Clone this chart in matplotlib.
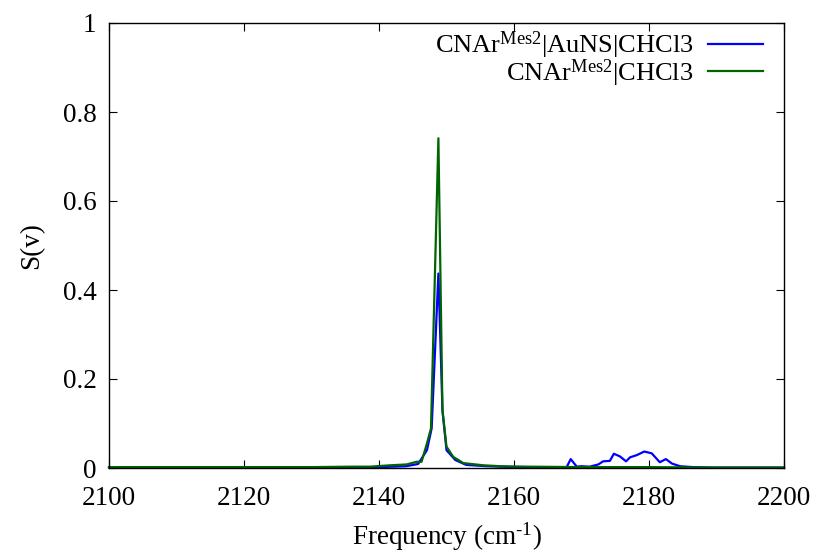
import numpy as np
import matplotlib
matplotlib.use("Agg")
import matplotlib.pyplot as plt

plt.rcParams['font.family'] = 'Liberation Serif'
plt.rcParams['mathtext.fontset'] = 'custom'
plt.rcParams['mathtext.rm'] = 'Liberation Serif'
plt.rcParams['mathtext.it'] = 'Liberation Serif:italic'

# CNAr^Mes2 | AuNS | CHCl3
freq_blue = [2100, 2120, 2136, 2140, 2144, 2145.8, 2147.1, 2147.8, 2148.8, 2149.4,
             2150.0, 2151.3, 2152.9, 2156, 2160, 2165, 2167.8, 2168.4, 2169.3, 2170.0,
             2171.2, 2172.5, 2173.2, 2174.2, 2174.8, 2175.7, 2176.6, 2177.2, 2178.2,
             2179.3, 2180.4, 2181.6, 2182.5, 2183.4, 2184.6, 2186.5, 2189.5, 2195, 2200]
s_blue = [0.001, 0.001, 0.001, 0.002, 0.004, 0.009, 0.040, 0.089, 0.437, 0.130,
          0.040, 0.018, 0.007, 0.004, 0.002, 0.002, 0.002, 0.020, 0.003, 0.004,
          0.003, 0.008, 0.015, 0.016, 0.032, 0.026, 0.015, 0.024, 0.029,
          0.037, 0.033, 0.013, 0.020, 0.010, 0.004, 0.002, 0.001, 0.001, 0.001]

# CNAr^Mes2 | CHCl3
freq_green = [2100, 2110, 2120, 2130, 2136, 2138.7, 2141.6, 2144.1, 2145.6, 2146.3,
              2147.1, 2147.7, 2148.8, 2149.4, 2150.0, 2151.0, 2152.5, 2155.5, 2158,
              2162, 2170, 2180, 2190, 2200]
s_green = [0.002, 0.002, 0.002, 0.002, 0.003, 0.003, 0.006, 0.008, 0.014, 0.014,
           0.055, 0.089, 0.741, 0.130, 0.048, 0.025, 0.011, 0.006, 0.004,
           0.003, 0.002, 0.002, 0.001, 0.001]

fig = plt.figure(figsize=(8.17, 5.53), dpi=100)
ax = fig.add_axes([109/817, 85/553, 675/817, 445/553])

ax.plot(freq_blue, s_blue, color='#0000ff', lw=1.6, clip_on=False,
        label=r'CNAr$^{\mathrm{Mes2}}$|AuNS|CHCl3')
ax.plot(freq_green, s_green, color='#006400', lw=1.6, clip_on=False,
        label=r'CNAr$^{\mathrm{Mes2}}$|CHCl3')

ax.set_xlim(2100, 2200)
ax.set_ylim(0, 1)
ax.set_xticks(np.arange(2100, 2201, 20))
ax.set_yticks([0, 0.2, 0.4, 0.6, 0.8, 1])
ax.set_yticklabels(['0', '0.2', '0.4', '0.6', '0.8', '1'])
ax.tick_params(direction='in', top=True, right=True, length=6, labelsize=19.5)
ax.tick_params(axis='x', pad=13)
ax.tick_params(axis='y', pad=9)
for sp in ax.spines.values():
    sp.set_linewidth(1)

ax.set_xlabel(r'Frequency (cm$^{\text{-1}}$)', fontsize=19.5, labelpad=7)
ax.set_ylabel('S(v)', fontsize=19.5, labelpad=13)

ax.legend(loc='upper right', bbox_to_anchor=(0.969, 0.985), frameon=False,
          markerfirst=False, fontsize=19, handlelength=2.08, handletextpad=0.57,
          borderpad=0, borderaxespad=0, labelspacing=-0.15)

fig.savefig('out.png', dpi=100)
